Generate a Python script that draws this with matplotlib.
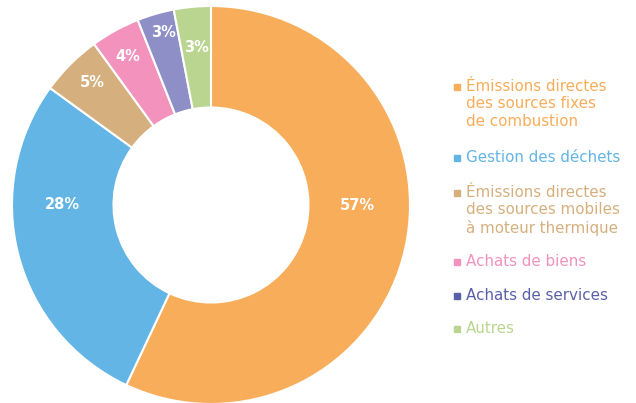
import matplotlib
matplotlib.use("Agg")
import matplotlib.pyplot as plt
import numpy as np

categories = ["Émissions directes\ndes sources fixes\nde combustion",
              "Gestion des déchets",
              "Émissions directes\ndes sources mobiles\nà moteur thermique",
              "Achats de biens",
              "Achats de services",
              "Autres"]
values = [57, 28, 5, 4, 3, 3]
pct_labels = ["57%", "28%", "5%", "4%", "3%", "3%"]

slice_colors = ["#F7AD5A", "#63B5E5", "#D5B07E", "#F292BD", "#8D8FC6", "#B9D58F"]
legend_colors = ["#F7AD5A", "#63B5E5", "#D5B07E", "#F292BD", "#5A60A8", "#B9D58F"]
label_angles = [0, 180, 134.1, 119.3, 105.5, 95.4]
label_radii = [0.734, 0.749, 0.86, 0.853, 0.902, 0.793]
legend_y = [87, 158, 193, 262, 296, 329]  # pixel y of first line

W, H = 636, 403
fig = plt.figure(figsize=(W / 100, H / 100), dpi=100)
cx, cy, R = 211, 205, 199
ax = fig.add_axes([(cx - R) / W, (H - cy - R) / H, 2 * R / W, 2 * R / H])
wedges, _ = ax.pie(values, colors=slice_colors, startangle=90, counterclock=False,
                   radius=1.0, wedgeprops=dict(width=0.51, edgecolor="white", linewidth=1.5))
for lab, a, r in zip(pct_labels, label_angles, label_radii):
    ang = np.deg2rad(a)
    ax.text(r * np.cos(ang), r * np.sin(ang), lab, ha="center", va="center",
            color="white", fontsize=10.5, fontweight="bold", family="DejaVu Sans")
ax.set_xlim(-1, 1)
ax.set_ylim(-1, 1)
ax.set_aspect("equal")
ax.axis("off")

for lab, col, y in zip(categories, legend_colors, legend_y):
    fig.patches.append(plt.Rectangle((454 / W, (H - y - 3) / H), 6 / W, 6 / H,
                                     transform=fig.transFigure, color=col, figure=fig))
    fig.text(466 / W, (H - y + 8) / H, lab, ha="left", va="top", color=col,
             fontsize=10.9, family="DejaVu Sans", linespacing=1.2)

fig.savefig("out.png", dpi=100, facecolor="white")
